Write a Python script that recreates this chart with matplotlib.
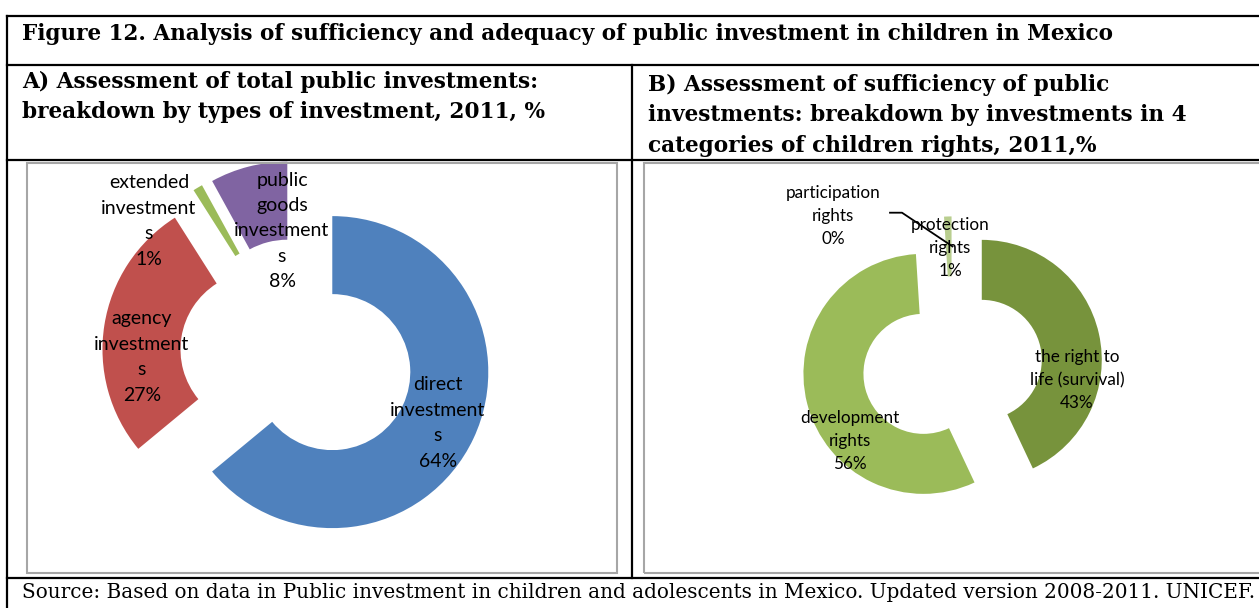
import matplotlib.pyplot as plt
from matplotlib.lines import Line2D
from matplotlib.patches import Rectangle
import numpy as np

W, H = 1259, 608

title = 'Figure 12. Analysis of sufficiency and adequacy of public investment in children in Mexico'
head_a = 'A) Assessment of total public investments:\nbreakdown by types of investment, 2011, %'
head_b = ('B) Assessment of sufficiency of public\ninvestments: breakdown by investments in 4\n'
          'categories of children rights, 2011,%')
source = ('Source: Based on data in Public investment in children and adolescents in Mexico. '
          'Updated version 2008-2011. UNICEF.')

# panel A - types of investment
types_a = ['direct\ninvestment\ns', 'agency\ninvestment\ns',
           'extended\ninvestment\ns', 'public\ngoods\ninvestment\ns']
share_a = [64, 27, 1, 8]
colors_a = ['#4F81BD', '#C0504D', '#9BBB59', '#8064A2']

# panel B - categories of children rights
rights_b = ['the right to\nlife (survival)', 'development\nrights',
            'protection\nrights', 'participation\nrights']
share_b = [43, 56, 1, 0]
colors_b = ['#77933C', '#9BBB59', '#B9CE8F', '#D7E4BD']

serif = 'DejaVu Serif'
sans = 'Lato'

fig = plt.figure(figsize=(W / 100, H / 100), dpi=100)


def fx(x):
    return x / W


def fy(y):
    return 1 - y / H


def line(xs, ys, color='black', lw=1.6):
    fig.add_artist(Line2D([fx(x) for x in xs], [fy(y) for y in ys], color=color, lw=lw))


# table grid
for y in [16, 65, 160, 578]:
    line([7, W], [y, y])
line([7, 7], [16, H])
line([632, 632], [65, 578])

fig.text(fx(22), fy(34), title, family=serif, weight='bold', fontsize=15.5, va='center')
fig.text(fx(22), fy(97), head_a, family=serif, weight='bold', fontsize=15.6, va='center',
         linespacing=1.5)
fig.text(fx(648), fy(115), head_b, family=serif, weight='bold', fontsize=15.6, va='center',
         linespacing=1.5)
fig.text(fx(22), fy(593), source, family=serif, fontsize=14.4, va='center')


def donut(box, center, radius, values, colors):
    x0, y0, x1, y1 = box
    cx, cy = center
    ax = fig.add_axes([fx(x0), fy(y1), (x1 - x0) / W, (y1 - y0) / H])
    wedges, _ = ax.pie(values, colors=colors, startangle=90, counterclock=False,
                       explode=[0.25] * len(values),
                       wedgeprops=dict(width=0.5, linewidth=0))
    ax.set_xlim((x0 - cx) / radius, (x1 - cx) / radius)
    ax.set_ylim((cy - y1) / radius, (cy - y0) / radius)
    ax.set_aspect('auto')
    ax.axis('off')
    fig.add_artist(Rectangle((fx(x0), fy(y1)), (x1 - x0) / W, (y1 - y0) / H, fill=False,
                             edgecolor='#a6a6a6', lw=1.5, transform=fig.transFigure))
    return ax, wedges


ax_a, wedges_a = donut((27, 163, 617, 573), (297, 355.5), 156, share_a, colors_a)
ax_b, wedges_b = donut((644, 163, 1262, 573), (952.5, 366.4), 120, share_b, colors_b)

# data labels (positions as placed in the original)
pos_a = [(438, 423), (142, 357), (149, 221), (282, 231)]
for (x, y), name, v in zip(pos_a, types_a, share_a):
    fig.text(fx(x), fy(y), f'{name}\n{v}%', family=sans, fontsize=14, ha='center',
             va='center', linespacing=1.6)

pos_b = [(1077, 380), (850, 441), (950, 248), (833, 216)]
for (x, y), name, v in zip(pos_b, rights_b, share_b):
    fig.text(fx(x), fy(y), f'{name}\n{v}%', family=sans, fontsize=12.3, ha='center',
             va='center', linespacing=1.55)

# leader line to the zero slice
w = wedges_b[3]
t = np.deg2rad(w.theta1)
ex, ey = w.center[0] + 0.75 * np.cos(t), w.center[1] + 0.75 * np.sin(t)
sx = [(890 - 952.5) / 120, (902 - 952.5) / 120]
sy = [(366.4 - 212.7) / 120] * 2
ax_b.plot(sx + [ex], sy + [ey], color='black', lw=1.3, clip_on=False)

fig.savefig('out.png', dpi=100)
